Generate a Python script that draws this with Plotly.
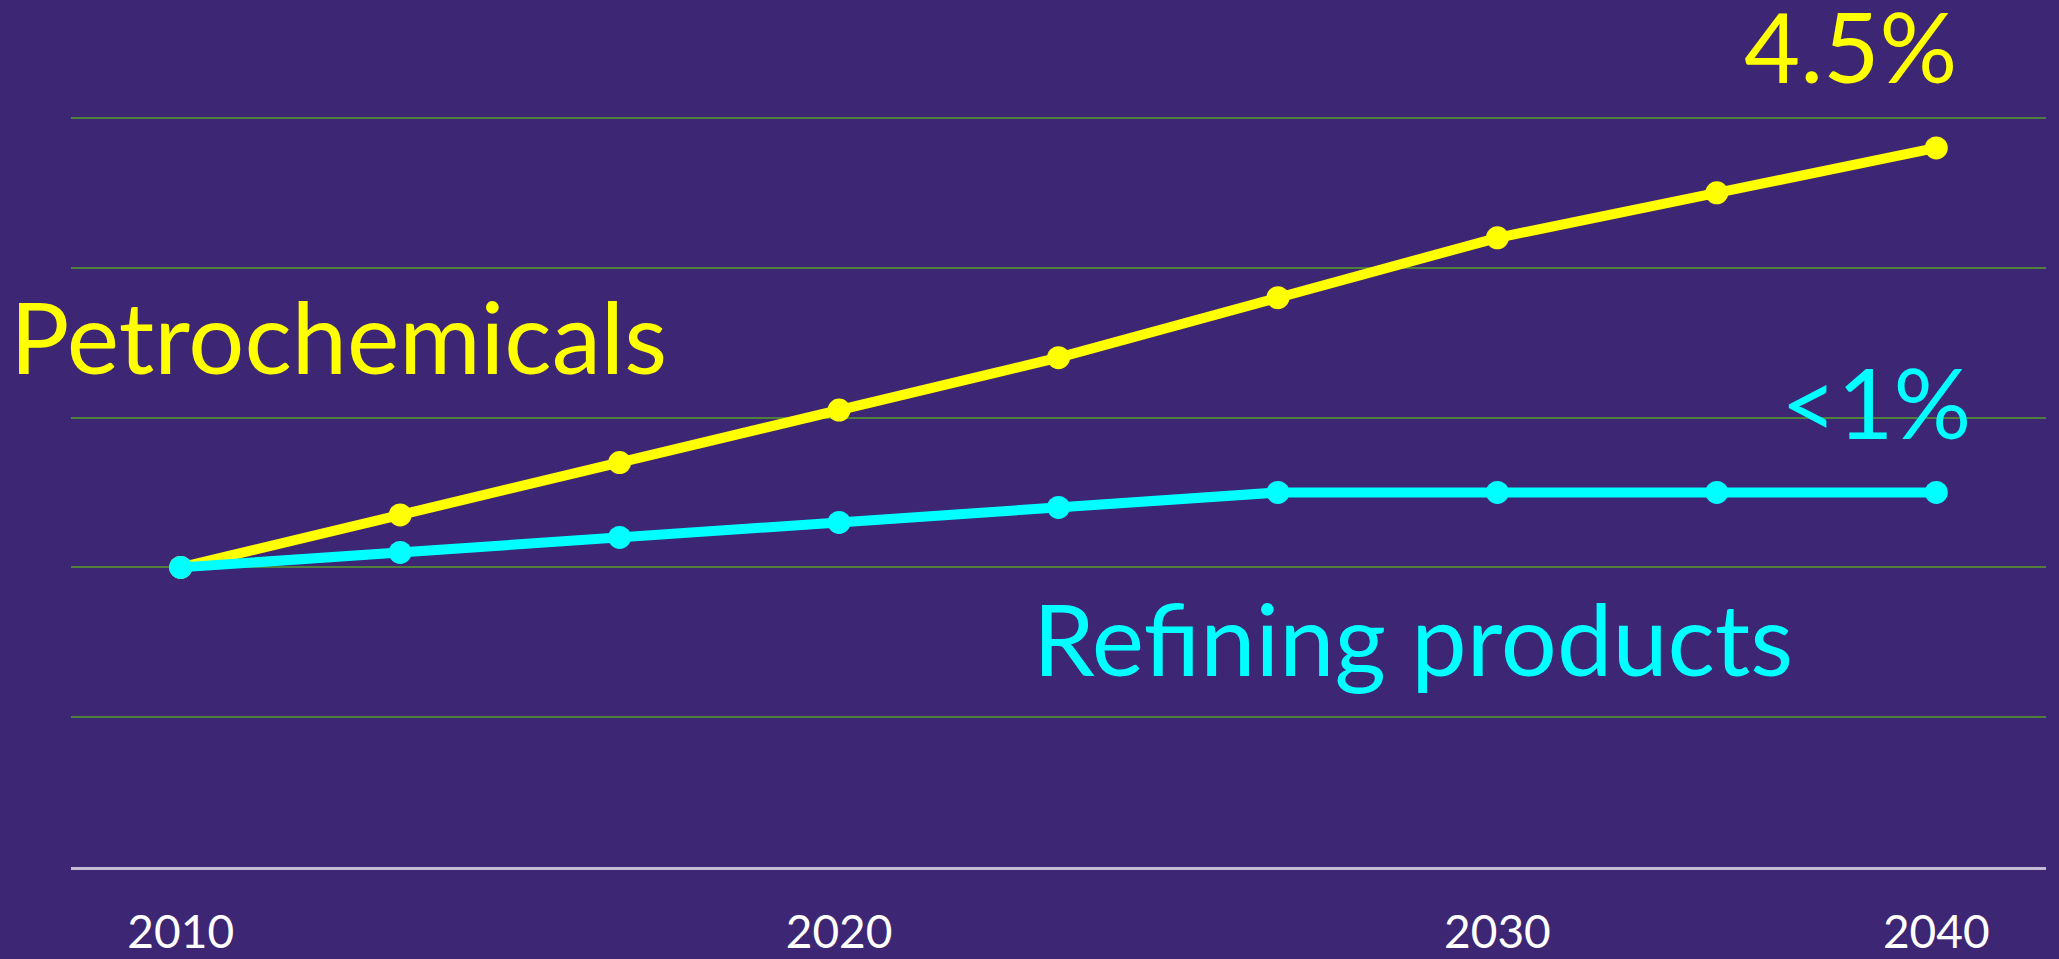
import plotly.graph_objects as go

# ______________________________________________________________________________
# Data

periods = ["2010", "2013", "2017", "2020", "2023", "2027", "2030", "2035", "2040"]
petrochemicals = [2.0, 2.35, 2.7, 3.05, 3.4, 3.8, 4.2, 4.5, 4.8]
refining = [2.0, 2.1, 2.2, 2.3, 2.4, 2.5, 2.5, 2.5, 2.5]
tick_periods = ["2010", "2020", "2030", "2040"]

BG = "#3D2673"
FONT = "Lato"
LABEL_SIZE = 97

# ______________________________________________________________________________
# Figure

fig = go.Figure()

fig.add_trace(go.Scatter(
    x=periods, y=petrochemicals, mode="lines+markers",
    line=dict(color="#FFFF00", width=10),
    marker=dict(color="#FFFF00", size=23),
    cliponaxis=False, showlegend=False,
))
fig.add_trace(go.Scatter(
    x=periods, y=refining, mode="lines+markers",
    line=dict(color="#00FFFF", width=10),
    marker=dict(color="#00FFFF", size=23),
    cliponaxis=False, showlegend=False,
))

# labels
fig.add_annotation(text="Petrochemicals", xref="paper", yref="y", x=-0.032, y=3.55,
                   xanchor="left", yanchor="middle", showarrow=False,
                   font=dict(color="#FFFF00", size=LABEL_SIZE + 2, family=FONT))
fig.add_annotation(text="4.5%", xref="paper", yref="paper", x=0.9008, y=1.055,
                   xanchor="center", yanchor="middle", showarrow=False,
                   font=dict(color="#FFFF00", size=LABEL_SIZE, family=FONT))
fig.add_annotation(text="<1%", xref="paper", yref="y", x=0.914, y=3.11,
                   xanchor="center", yanchor="middle", showarrow=False,
                   font=dict(color="#00FFFF", size=LABEL_SIZE, family=FONT))
fig.add_annotation(text="Refining products", xref="paper", yref="y", x=0.6795, y=1.53,
                   xanchor="center", yanchor="middle", showarrow=False,
                   font=dict(color="#00FFFF", size=LABEL_SIZE + 2, family=FONT))

fig.update_layout(
    width=2059, height=959,
    plot_bgcolor=BG, paper_bgcolor=BG,
    margin=dict(l=71, r=13, t=88, b=92, autoexpand=False),
    font=dict(family=FONT, color="#FFFFFF"),
    xaxis=dict(
        type="category", range=[-0.5, 8.5], automargin=False,
        tickmode="array", tickvals=tick_periods, ticktext=tick_periods,
        showgrid=False, zeroline=False,
        showline=True, linecolor="#C4BCD6", linewidth=3,
        ticks="", ticklabelstandoff=23,
        tickfont=dict(size=46, color="#FFFFFF", family=FONT),
    ),
    yaxis=dict(
        range=[0, 5.2], tickvals=[1, 2, 3, 4, 5], showticklabels=False,
        showgrid=True, gridcolor="#4F7F3A", gridwidth=2, automargin=False,
        zeroline=False, showline=False, ticks="",
    ),
)

fig.write_html("out.html", config={"displayModeBar": False},
               post_script="document.body.style.margin='0';")
